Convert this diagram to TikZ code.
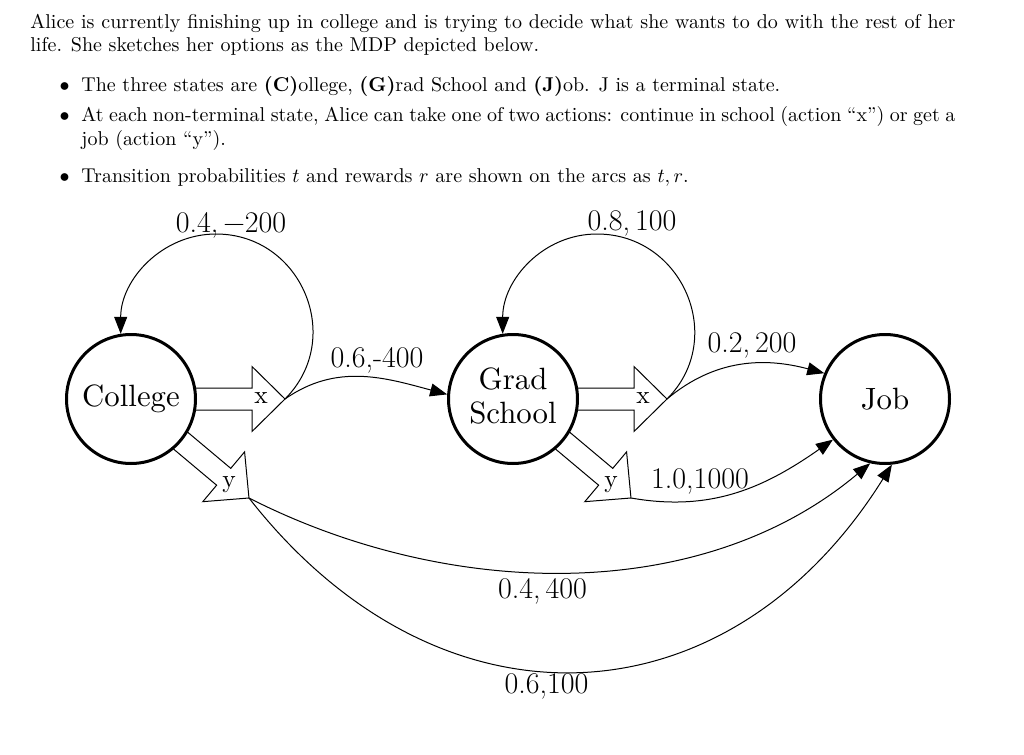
\documentclass[tikz,border=0pt]{standalone}
\usetikzlibrary{arrows.meta}
\newcommand{\dgt}[1]{\scalebox{1.54}{#1}}
\newcommand{\dga}[1]{\scalebox{1.27}{#1}}
\newcommand{\lbfont}{\fontsize{15}{18}\selectfont}
\begin{document}
\begin{tikzpicture}[x=0.5pt,y=0.5pt,
  state/.style={circle,draw,line width=1.5pt,minimum size=64.5pt,inner sep=0pt,fill=white},
  actarrow/.style={draw,line width=0.5pt,line join=miter},
  conn/.style={line width=0.5pt,-{Triangle[length=8.5pt,width=6.5pt]}},
  lbl/.style={anchor=base,inner sep=0pt,font=\lbfont},
  albl/.style={anchor=base,inner sep=0pt},
  txt/.style={anchor=base west,inner sep=0pt},
  bul/.style={anchor=base east,inner sep=0pt}
]
\fill[white] (0,0) rectangle (1024,-755);
\useasboundingbox (0,0) rectangle (1024,-755);

% ---- text ----
\node[txt] (t1) at (30,-28) {\makebox[462.5pt][s]{Alice is currently finishing up in college and is trying to decide what she wants to do with the rest of her}};
\node[txt] (t2) at (30,-51) {life. She sketches her options as the MDP depicted below.};
\node[bul] (b1) at (70,-91) {$\bullet$};
\node[txt] (i1) at (81,-91) {The three states are \textbf{(C)}ollege, \textbf{(G)}rad School and \textbf{(J)}ob. J is a terminal state.};
\node[bul] (b2) at (70,-121) {$\bullet$};
\node[txt] (i2a) at (81,-121) {\makebox[437pt][s]{At each non-terminal state, Alice can take one of two actions: continue in school (action “x”) or get a}};
\node[txt] (i2b) at (81,-145) {job (action “y”).};
\node[bul] (b3) at (70,-182) {$\bullet$};
\node[txt] (i3) at (81,-182) {Transition probabilities $t$ and rewards $r$ are shown on the arcs as $t, r$.};

% ---- action arrows ----
\begin{scope}[shift={(131,-399)}]
  \draw[actarrow] (55,11) -- (121,11) -- (121,32.5) -- (154,0) -- (121,-32.5) -- (121,-11) -- (55,-11) -- cycle;
  \coordinate (cxtip) at (154,0);
\end{scope}
\begin{scope}[shift={(131,-399)},rotate=-40]
  \draw[actarrow] (55,11) -- (121,11) -- (121,32.5) -- (154,0) -- (121,-32.5) -- (121,-11) -- (55,-11) -- cycle;
  \coordinate (cytip) at (154,0);
\end{scope}
\begin{scope}[shift={(513,-399)}]
  \draw[actarrow] (55,11) -- (121,11) -- (121,32.5) -- (154,0) -- (121,-32.5) -- (121,-11) -- (55,-11) -- cycle;
  \coordinate (gxtip) at (154,0);
\end{scope}
\begin{scope}[shift={(513,-399)},rotate=-40]
  \draw[actarrow] (55,11) -- (121,11) -- (121,32.5) -- (154,0) -- (121,-32.5) -- (121,-11) -- (55,-11) -- cycle;
  \coordinate (gytip) at (154,0);
\end{scope}

\node[albl] (cxl) at (261,-403) {\dga{x}};
\node[albl] (gxl) at (643,-403) {\dga{x}};
\node[albl] (cyl) at (229,-487) {\dga{y}};
\node[albl] (gyl) at (611,-487) {\dga{y}};

% ---- states ----
\node[state] (college) at (131,-399) {\dgt{College}};
\node[state] (grad) at (513,-399) {\dgt{\begin{tabular}{@{}c@{}}Grad\\[-1pt]School\end{tabular}}};
\node[state] (job) at (885,-399) {\dgt{Job}};

% ---- connectors ----
\coordinate (ctop) at (216,-234);
\coordinate (gtop) at (597,-234);
\draw[conn] (cxtip) .. controls +(45:85.5) and +(0:85.5) .. (ctop) .. controls +(180:54) and +(90:54) .. (college.99);
\draw[conn] (gxtip) .. controls +(45:85.5) and +(0:85.5) .. (gtop) .. controls +(180:54) and +(90:54) .. (grad.99);
\draw[conn] (cxtip) to[out=35,in=165] (grad.176);
\draw[conn] (gxtip) to[out=40,in=165] (job.157);
\draw[conn] (gytip) to[out=-10,in=215] (job.-142);
\draw[conn] (cytip) .. controls +(-27:222) and +(220:222) .. (job.-103);
\draw[conn] (cytip) .. controls +(-52:309) and +(238:309) .. (job.-84);

% ---- labels ----
\node[lbl] (lc) at (231,-232) {0.4,\thinspace −200};
\node[lbl] (lg) at (632,-230) {0.8,\thinspace 100};
\node[lbl] (lcg) at (377,-367) {0.6,-400};
\node[lbl] (lgj) at (752,-352) {0.2,\thinspace 200};
\node[lbl] (lgy) at (700,-488) {1.0,1000};
\node[lbl] (lcy1) at (542.5,-598) {0.4,\thinspace 400};
\node[lbl] (lcy2) at (546.5,-693) {0.6,100};
\end{tikzpicture}
\end{document}
